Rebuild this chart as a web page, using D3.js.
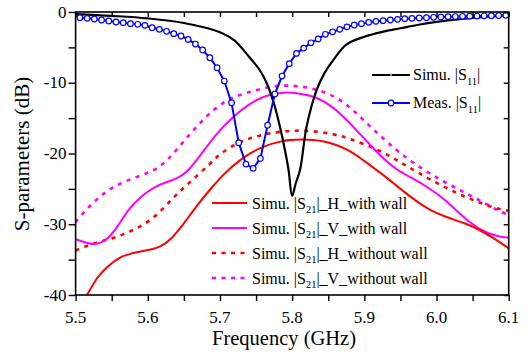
<!DOCTYPE html>
<html>
<head>
<meta charset="utf-8">
<script src="https://cdn.jsdelivr.net/npm/d3@7"></script>
<style>
  body { margin: 0; background: #fff; }
  svg text { font-family: "Liberation Serif", "Times New Roman", serif; fill: #000; }
</style>
</head>
<body>
<svg id="chart" width="532" height="355"></svg>
<script>
// ---- data ----
var xTicks = [5.5, 5.6, 5.7, 5.8, 5.9, 6.0, 6.1]
var yTicks = [0, -10, -20, -30, -40]

// Simu. |S11| (black)
var simS11Freq = [5.50, 5.55, 5.60, 5.65, 5.70, 5.72, 5.74, 5.755, 5.765, 5.775, 5.783, 5.79, 5.795, 5.80,
    5.805, 5.811, 5.82, 5.834, 5.845, 5.857, 5.875, 5.90, 5.925, 5.95, 5.975, 6.00, 6.05, 6.10]
var simS11 = [-0.3, -0.55, -0.9, -1.55, -2.85, -4.0, -6.3, -8.2, -10.1, -13.0, -16.2, -19.5, -22.3, -26.0,
    -24.2, -22.3, -16.2, -11.0, -8.6, -6.8, -4.6, -3.5, -2.8, -2.3, -1.8, -1.4, -0.85, -0.45]

// Meas. |S11| (blue, one marker every 10 MHz from 5.506 GHz)
var measS11Freq = d3.range(60).map(function (k) { return 5.506 + 0.01 * k })
var measS11 = [-0.80, -0.90, -0.99, -1.13, -1.27, -1.41, -1.51, -1.65, -1.74, -1.89,
    -2.22, -2.45, -2.73, -3.06, -3.39, -3.87, -4.53, -5.37, -6.46, -7.87,
    -9.76, -12.82, -18.48, -21.5, -22.1, -20.7, -16.0, -11.6, -9.05, -7.3,
    -5.85, -5.1, -4.35, -3.8, -3.15, -2.8, -2.45, -2.1, -1.84, -1.65,
    -1.46, -1.32, -1.22, -1.13, -1.04, -0.94, -0.9, -0.85, -0.8, -0.75,
    -0.71, -0.66, -0.64, -0.61, -0.59, -0.57, -0.54, -0.52, -0.5, -0.47]

// Simu. |S21|_H_with wall (red solid)
var hWallFreq = [5.505, 5.516, 5.530, 5.544, 5.558, 5.576, 5.599, 5.618, 5.632, 5.650, 5.669, 5.687, 5.705,
    5.727, 5.755, 5.788, 5.811, 5.843, 5.88, 5.90, 5.921, 5.944, 5.967, 5.99, 6.013, 6.041, 6.06, 6.083, 6.10]
var hWall = [-41.7, -40.0, -37.4, -36.0, -34.8, -34.1, -33.7, -33.2, -32.2, -29.9, -27.2, -25.0, -22.9,
    -20.9, -19.1, -18.1, -18.0, -18.1, -19.5, -21.1, -22.6, -24.5, -26.4, -28.0, -29.0, -29.9, -30.8, -32.2, -33.4]

// Simu. |S21|_V_with wall (magenta solid)
var vWallFreq = [5.50, 5.526, 5.544, 5.558, 5.572, 5.590, 5.609, 5.627, 5.641, 5.655, 5.668, 5.68, 5.695,
    5.718, 5.741, 5.765, 5.788, 5.811, 5.834, 5.857, 5.88, 5.90, 5.921, 5.944, 5.967, 5.99, 6.013, 6.037,
    6.06, 6.083, 6.10]
var vWall = [-32.1, -33.1, -32.2, -30.4, -28.0, -26.1, -24.7, -24.0, -23.5, -22.6, -20.9, -19.3, -17.2,
    -14.8, -12.9, -11.7, -11.3, -11.5, -12.0, -13.4, -15.7, -17.9, -20.2, -22.3, -23.5, -24.9, -26.6, -29.0,
    -30.8, -31.7, -31.9]

// Simu. |S21|_H_without wall (red dotted)
var hNoWallFreq = [5.50, 5.526, 5.553, 5.581, 5.609, 5.636, 5.659, 5.687, 5.70, 5.727, 5.755, 5.788, 5.82,
    5.857, 5.88, 5.921, 5.949, 5.976, 6.013, 6.05, 6.083, 6.10]
var hNoWall = [-33.7, -32.6, -32.0, -30.8, -29.2, -26.1, -24.0, -21.4, -20.0, -18.3, -17.4, -16.8, -16.7,
    -17.2, -17.9, -19.5, -21.2, -22.8, -24.9, -26.6, -27.8, -28.1]

// Simu. |S21|_V_without wall (magenta dotted)
var vNoWallFreq = [5.50, 5.512, 5.526, 5.539, 5.553, 5.567, 5.590, 5.609, 5.622, 5.634, 5.652, 5.672, 5.695,
    5.718, 5.741, 5.765, 5.792, 5.82, 5.847, 5.875, 5.90, 5.93, 5.967, 6.013, 6.06, 6.083, 6.10]
var vNoWall = [-29.7, -28.2, -26.8, -25.6, -24.7, -24.0, -23.1, -22.4, -21.4, -20.2, -18.0, -15.7, -13.4,
    -12.0, -11.3, -10.6, -10.3, -10.6, -11.3, -12.9, -15.4, -18.3, -21.4, -24.2, -26.6, -28.0, -28.7]

// ---- drawing ----
var svg = d3.select("#chart")
var padL = 75.6, padR = 508.7, padT = 12, padB = 295

var x = d3.scaleLinear().domain([5.5, 6.1]).range([padL, padR])
var y = d3.scaleLinear().domain([-40, 0]).range([padB, padT])

function zip(fs, vs) {
    return fs.map(function (f, i) { return [f, vs[i]] })
}

svg.append("defs").append("clipPath").attr("id", "plotclip")
    .append("rect").attr("x", padL).attr("y", padT)
    .attr("width", padR - padL).attr("height", padB - padT)

var plot = svg.append("g").attr("clip-path", "url(#plotclip)")

function lineGen(curve) {
    return d3.line()
        .x(function (d) { return x(d[0]) })
        .y(function (d) { return y(d[1]) })
        .curve(curve)
}

var series = [
    {data: zip(vNoWallFreq, vNoWall), color: "#ff00ff", dash: "4,5.5", width: 2.6, curve: d3.curveBasis},
    {data: zip(hNoWallFreq, hNoWall), color: "#ff0000", dash: "4,5.5", width: 2.6, curve: d3.curveBasis},
    {data: zip(vWallFreq, vWall), color: "#ff00ff", dash: null, width: 2, curve: d3.curveBasis},
    {data: zip(hWallFreq, hWall), color: "#ff0000", dash: null, width: 2, curve: d3.curveBasis},
    {data: zip(simS11Freq, simS11), color: "#000000", dash: null, width: 2.2, curve: d3.curveCatmullRom}
]

series.forEach(function (s) {
    plot.append("path")
        .attr("d", lineGen(s.curve)(s.data))
        .attr("fill", "none")
        .attr("stroke", s.color)
        .attr("stroke-width", s.width)
        .attr("stroke-dasharray", s.dash)
})

var meas = zip(measS11Freq, measS11)
plot.append("path")
    .attr("d", lineGen(d3.curveLinear)(meas))
    .attr("fill", "none")
    .attr("stroke", "#0000ff")
    .attr("stroke-width", 2)

plot.selectAll(".meas")
    .data(meas)
    .enter().append("circle")
    .attr("class", "meas")
    .attr("cx", function (d) { return x(d[0]) })
    .attr("cy", function (d) { return y(d[1]) })
    .attr("r", 2.8)
    .attr("fill", "#fff")
    .attr("stroke", "#0000ff")
    .attr("stroke-width", 1.2)

// axes (ticks every 0.05 GHz and 5 dB, box around the plot)
var minorX = d3.range(5.5, 6.1001, 0.05)
var minorY = d3.range(-40, 0.001, 5)

svg.append("g")
    .attr("transform", "translate(0," + padB + ")")
    .call(d3.axisBottom(x).tickValues(minorX).tickSize(6).tickFormat(""))
    .call(function (g) { g.select(".domain").remove() })
svg.append("g")
    .attr("transform", "translate(0," + padT + ")")
    .call(d3.axisBottom(x).tickValues(minorX).tickSize(5).tickFormat(""))
    .call(function (g) { g.select(".domain").remove() })
svg.append("g")
    .attr("transform", "translate(" + padL + ",0)")
    .call(d3.axisLeft(y).tickValues(minorY).tickSize(7).tickFormat(""))
    .call(function (g) { g.select(".domain").remove() })
svg.append("g")
    .attr("transform", "translate(" + padR + ",0)")
    .call(d3.axisLeft(y).tickValues(minorY).tickSize(5).tickFormat(""))
    .call(function (g) { g.select(".domain").remove() })

svg.selectAll(".tick line").attr("stroke", "#000").attr("stroke-width", 1.4)

svg.append("rect")
    .attr("x", padL).attr("y", padT)
    .attr("width", padR - padL).attr("height", padB - padT)
    .attr("fill", "none").attr("stroke", "#000").attr("stroke-width", 1.6)

svg.selectAll(".xlab")
    .data(xTicks)
    .enter().append("text")
    .attr("x", function (d) { return x(d) })
    .attr("y", 323)
    .attr("text-anchor", "middle")
    .style("font-size", "17px")
    .text(function (d) { return d.toFixed(1) })

svg.selectAll(".ylab")
    .data(yTicks)
    .enter().append("text")
    .attr("x", 66.5)
    .attr("y", function (d) { return y(d) + 5.5 })
    .attr("text-anchor", "end")
    .style("font-size", "17px")
    .text(function (d) { return d })

svg.append("text")
    .attr("x", 284).attr("y", 345)
    .attr("text-anchor", "middle")
    .style("font-size", "20.5px")
    .text("Frequency (GHz)")

svg.append("text")
    .attr("transform", "translate(29,154) rotate(-90)")
    .attr("text-anchor", "middle")
    .style("font-size", "21px")
    .text("S-parameters (dB)")

// legends
function legendText(g, tx, ty, sub, tail) {
    var t = g.append("text").attr("x", tx).attr("y", ty).style("font-size", "16px")
    t.append("tspan").text(sub[0])
    t.append("tspan").attr("dy", 4.5).style("font-size", "10.5px").text(sub[1])
    t.append("tspan").attr("dy", -4.5).text(tail)
}

var topLegend = [
    {label: ["Simu. |S", "11"], tail: "|", color: "#000000", marker: "dot", y: 75},
    {label: ["Meas. |S", "11"], tail: "|", color: "#0000ff", marker: "circle", y: 103}
]
var lg = svg.append("g")
topLegend.forEach(function (d) {
    lg.append("line").attr("x1", 372).attr("x2", 410).attr("y1", d.y).attr("y2", d.y)
        .attr("stroke", d.color).attr("stroke-width", 2)
    if (d.marker === "circle") {
        lg.append("circle").attr("cx", 391).attr("cy", d.y).attr("r", 2.8)
            .attr("fill", "#fff").attr("stroke", d.color).attr("stroke-width", 1.2)
    } else {
        lg.append("circle").attr("cx", 391).attr("cy", d.y).attr("r", 1.2)
            .attr("fill", "#888").attr("stroke", "none")
    }
    legendText(lg, 413, d.y + 5, d.label, d.tail)
})

var botLegend = [
    {tail: "|_H_with wall", color: "#ff0000", dash: null, y: 203},
    {tail: "|_V_with wall", color: "#ff00ff", dash: null, y: 228},
    {tail: "|_H_without wall", color: "#ff0000", dash: "4,5.5", y: 253},
    {tail: "|_V_without wall", color: "#ff00ff", dash: "4,5.5", y: 278}
]
botLegend.forEach(function (d) {
    lg.append("line").attr("x1", 212).attr("x2", 247).attr("y1", d.y).attr("y2", d.y)
        .attr("stroke", d.color).attr("stroke-width", d.dash ? 2.6 : 2)
        .attr("stroke-dasharray", d.dash)
    if (!d.dash) {
        lg.append("circle").attr("cx", 229.5).attr("cy", d.y).attr("r", 1.2)
            .attr("fill", d.color).attr("opacity", 0.6)
    }
    legendText(lg, 252, d.y + 5.5, ["Simu. |S", "21"], d.tail)
})
</script>
</body>
</html>
